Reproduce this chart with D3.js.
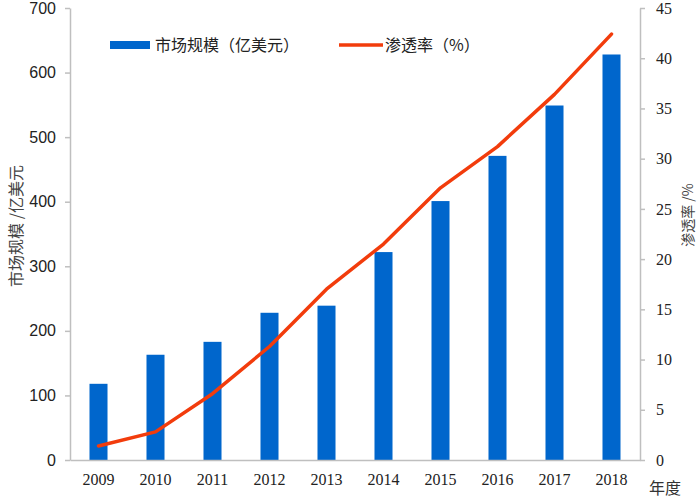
<!DOCTYPE html>
<html>
<head>
<meta charset="utf-8">
<script src="https://cdn.jsdelivr.net/npm/d3@7"></script>
<style>
  body { margin: 0; background: #fff; }
  .tick text { fill: #222; }
</style>
</head>
<body>
<div id="chart"></div>
<script>
// chart data
var years = ['2009', '2010', '2011', '2012', '2013', '2014', '2015', '2016', '2017', '2018'];
var marketSize = [118, 163, 183, 228, 239, 322, 401, 471, 549, 628];   // 亿美元
var penetration = [1.4, 2.8, 6.6, 11.3, 17.0, 21.5, 27.1, 31.2, 36.4, 42.4]; // %
var leftTicks = [0, 100, 200, 300, 400, 500, 600, 700];
var rightTicks = [0, 5, 10, 15, 20, 25, 30, 35, 40, 45];

var width = 700, height = 500;
var margins = {top: 8, right: 60, bottom: 40, left: 70};

var svg = d3.select('#chart').append('svg')
  .attr('width', width)
  .attr('height', height);

var x = d3.scaleBand()
  .domain(years)
  .range([margins.left, width - margins.right])
  .paddingInner(0.684)
  .paddingOuter(0.342);

var yL = d3.scaleLinear().domain([0, 700]).range([height - margins.bottom, margins.top]);
var yR = d3.scaleLinear().domain([0, 45]).range([height - margins.bottom, margins.top]);

var axisColor = '#bfbfbf';

// bars
svg.append('g').selectAll('rect')
  .data(marketSize)
  .enter().append('rect')
  .attr('x', function (d, i) { return x(years[i]); })
  .attr('y', function (d) { return yL(d); })
  .attr('width', x.bandwidth())
  .attr('height', function (d) { return yL(0) - yL(d); })
  .attr('fill', '#0066cc');

// left axis
var gl = svg.append('g')
  .attr('transform', 'translate(' + margins.left + ',0)')
  .call(d3.axisLeft(yL).tickValues(leftTicks).tickSize(5).tickPadding(9).tickSizeOuter(0));
gl.selectAll('text').style('font-family', '"Liberation Sans", sans-serif').style('font-size', '16px');

// right axis
var gr = svg.append('g')
  .attr('transform', 'translate(' + (width - margins.right) + ',0)')
  .call(d3.axisRight(yR).tickValues(rightTicks).tickSize(5).tickPadding(11).tickSizeOuter(0));
gr.selectAll('text').style('font-family', '"Liberation Serif", serif').style('font-size', '16px');

// bottom axis
var gb = svg.append('g')
  .attr('transform', 'translate(0,' + yL(0) + ')')
  .call(d3.axisBottom(x).tickSize(0).tickPadding(14).tickSizeOuter(0));
gb.selectAll('text').style('font-family', '"Liberation Serif", serif').style('font-size', '16px');

svg.selectAll('.domain, .tick line')
  .attr('stroke', axisColor)
  .attr('stroke-width', 1.5);

// penetration line
var line = d3.line()
  .x(function (d, i) { return x(years[i]) + x.bandwidth() / 2; })
  .y(function (d) { return yR(d); });

svg.append('path')
  .datum(penetration)
  .attr('d', line)
  .attr('fill', 'none')
  .attr('stroke', '#f23c0c')
  .attr('stroke-width', 3.5)
  .attr('stroke-linejoin', 'round')
  .attr('stroke-linecap', 'round');

// axis titles
svg.append('text')
  .attr('transform', 'translate(22,226) rotate(-90)')
  .attr('text-anchor', 'middle')
  .style('font-family', '"Noto Sans CJK SC", sans-serif')
  .style('font-size', '16px')
  .attr('fill', '#444')
  .text('市场规模 /亿美元');

svg.append('text')
  .attr('transform', 'translate(693,215) rotate(-90)')
  .attr('text-anchor', 'middle')
  .style('font-family', '"Noto Sans CJK SC", sans-serif')
  .style('font-size', '14px')
  .attr('fill', '#444')
  .text('渗透率 /%');

svg.append('text')
  .attr('x', 665)
  .attr('y', 494)
  .attr('text-anchor', 'middle')
  .style('font-family', '"Noto Sans CJK SC", sans-serif')
  .style('font-size', '16px')
  .attr('fill', '#333')
  .text('年度');

// legend
var legend = svg.append('g');
legend.append('rect')
  .attr('x', 110).attr('y', 41)
  .attr('width', 40).attr('height', 8)
  .attr('fill', '#0066cc');
legend.append('text')
  .attr('x', 155).attr('y', 51)
  .style('font-family', '"Noto Sans CJK SC", sans-serif')
  .style('font-size', '16px')
  .attr('fill', '#222')
  .text('市场规模（亿美元）');
legend.append('line')
  .attr('x1', 339).attr('x2', 383)
  .attr('y1', 45).attr('y2', 45)
  .attr('stroke', '#f23c0c')
  .attr('stroke-width', 3.5);
legend.append('text')
  .attr('x', 385).attr('y', 51)
  .style('font-family', '"Noto Sans CJK SC", sans-serif')
  .style('font-size', '16px')
  .attr('fill', '#222')
  .text('渗透率（%）');
</script>
</body>
</html>
